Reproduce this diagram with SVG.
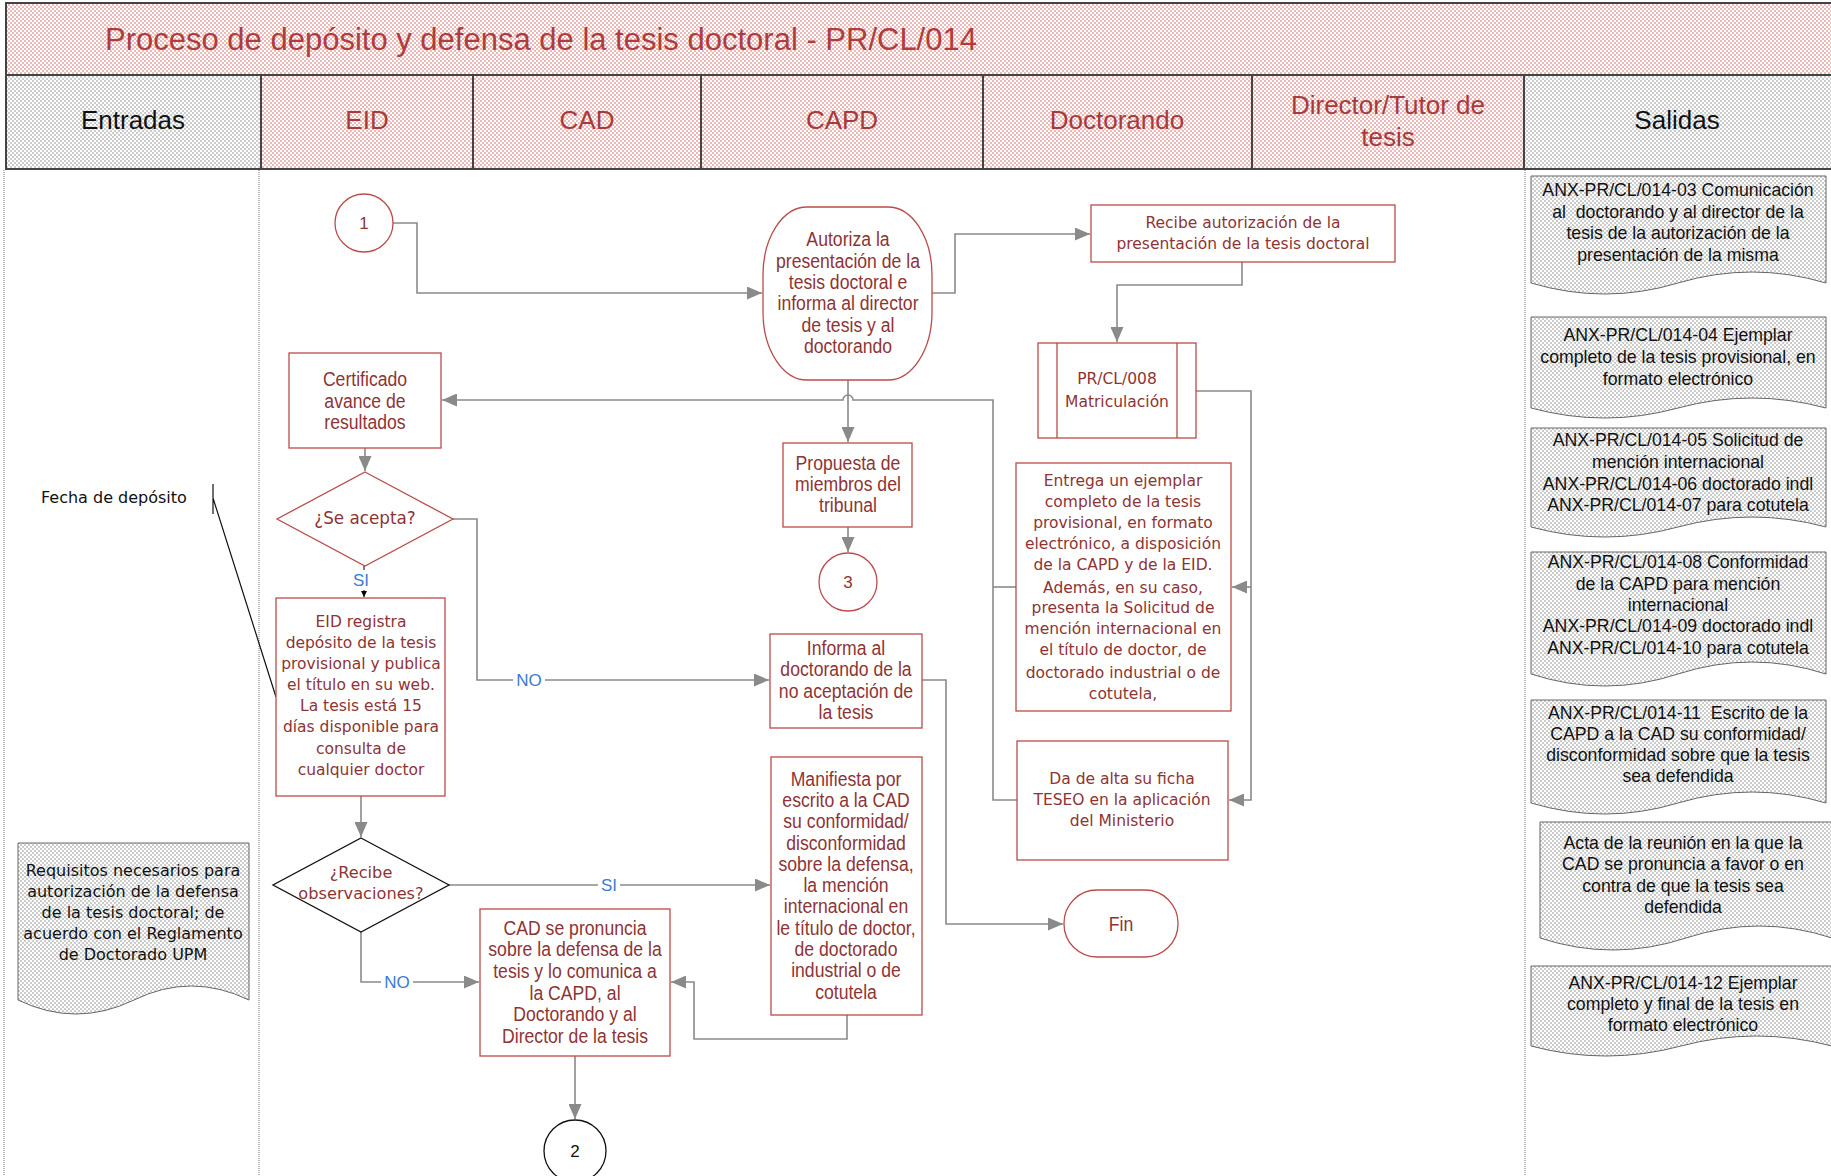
<svg xmlns="http://www.w3.org/2000/svg" width="1831" height="1176" viewBox="0 0 1831 1176">
<defs>
<pattern id="pink" width="4" height="4" patternUnits="userSpaceOnUse"><rect width="4" height="4" fill="#ffffff"/><rect width="2" height="2" fill="#edb8b8"/><rect x="2" y="2" width="2" height="2" fill="#edb8b8"/></pattern>
<pattern id="gray" width="4" height="4" patternUnits="userSpaceOnUse"><rect width="4" height="4" fill="#ffffff"/><rect width="2" height="2" fill="#cccccc"/><rect x="2" y="2" width="2" height="2" fill="#cccccc"/></pattern>
<marker id="arr" markerWidth="15" markerHeight="13" refX="15" refY="6.5" orient="auto" markerUnits="userSpaceOnUse"><path d="M0,0 L15,6.5 L0,13 z" fill="#8a8a8a"/></marker>
<marker id="arrk" markerWidth="6" markerHeight="6" refX="6" refY="3" orient="auto" markerUnits="userSpaceOnUse"><path d="M0,0 L6,3 L0,6 z" fill="#000"/></marker>
</defs>
<style>
.hdr{fill:url(#pink);stroke:#444;stroke-width:2}
.hdrg{fill:url(#gray);stroke:#444;stroke-width:2}
.lane{font-family:"Liberation Sans",Arial,sans-serif;font-size:26px;fill:#a83a3a;text-anchor:middle}
.laneb{font-family:"Liberation Sans",Arial,sans-serif;font-size:26px;fill:#111;text-anchor:middle}
.title{font-family:"Liberation Sans",Arial,sans-serif;font-size:31px;fill:#b03c3c}
.sep{stroke:#b8b8b8;stroke-width:2;stroke-dasharray:1 1;fill:none}
.box{fill:#fff;stroke:#bd4b4b;stroke-width:1.3}
.boxk{fill:#fff;stroke:#111;stroke-width:1.3}
.nar{font-family:"Liberation Sans",Arial,sans-serif;font-size:21px;fill:#8e3434;text-anchor:middle}
.wid{font-family:"DejaVu Sans",Verdana,sans-serif;font-size:15.5px;fill:#8e3434;text-anchor:middle}
.widk{font-family:"DejaVu Sans",Verdana,sans-serif;font-size:16px;fill:#111;text-anchor:middle}
.num{font-family:"Liberation Sans",Arial,sans-serif;font-size:17px;text-anchor:middle}
.doc{fill:url(#gray);stroke:#666;stroke-width:1}
.doct{font-family:"Liberation Sans",Arial,sans-serif;font-size:17.7px;fill:#111;text-anchor:middle;white-space:pre}
.con{fill:none;stroke:#8a8a8a;stroke-width:1.6}
.lbl{font-family:"Liberation Sans",Arial,sans-serif;font-size:17px;fill:#3a7bd5;text-anchor:middle}
</style>
<rect width="1831" height="1176" fill="#fff"/>

<g id="header">
<rect class="hdr" x="6" y="3" width="1826" height="72"/>
<text class="title" x="105" y="49.5">Proceso de depósito y defensa de la tesis doctoral - PR/CL/014</text>
<rect class="hdrg" x="6" y="75" width="255" height="94"/>
<rect class="hdr" x="261" y="75" width="212" height="94"/>
<rect class="hdr" x="473" y="75" width="228" height="94"/>
<rect class="hdr" x="701" y="75" width="282" height="94"/>
<rect class="hdr" x="983" y="75" width="269" height="94"/>
<rect class="hdr" x="1252" y="75" width="272" height="94"/>
<rect class="hdrg" x="1524" y="75" width="308" height="94"/>
<text class="laneb" x="133" y="129">Entradas</text>
<text class="lane" x="367" y="129">EID</text>
<text class="lane" x="587" y="129">CAD</text>
<text class="lane" x="842" y="129">CAPD</text>
<text class="lane" x="1117" y="129">Doctorando</text>
<text class="lane" x="1388" y="114">Director/Tutor de</text>
<text class="lane" x="1388" y="146">tesis</text>
<text class="laneb" x="1677" y="129">Salidas</text>
</g>

<g id="lanes">
<line class="sep" x1="4" y1="170" x2="4" y2="1176"/>
<line class="sep" x1="259" y1="170" x2="259" y2="1176"/>
<line class="sep" x1="1525" y1="170" x2="1525" y2="1176"/>
</g>

<g id="connectors">
<path class="con" d="M393,223 H417 V293 H762" marker-end="url(#arr)"/>
<path class="con" d="M932,293 H955 V234 H1090" marker-end="url(#arr)"/>
<path class="con" d="M1242,262 V285 H1117 V342" marker-end="url(#arr)"/>
<path class="con" d="M848,380 V442" marker-end="url(#arr)"/>
<path class="con" d="M1016,587 H993"/>
<path class="con" d="M1017,800 H993 V400 H853 A5,5 0 0 0 843,400 H442" marker-end="url(#arr)"/>
<path class="con" d="M1196,391 H1251 V800 H1229" marker-end="url(#arr)"/>
<path class="con" d="M1251,587 H1232" marker-end="url(#arr)"/>
<path class="con" d="M365,448 V471" marker-end="url(#arr)"/>
<path fill="none" stroke="#000" stroke-width="1" d="M364,566 V597" marker-end="url(#arrk)"/>
<path class="con" d="M453,519 H477 V680 H769" marker-end="url(#arr)"/>
<path class="con" d="M848,527 V552" marker-end="url(#arr)"/>
<path class="con" d="M361,796 V837" marker-end="url(#arr)"/>
<path class="con" d="M449,885 H770" marker-end="url(#arr)"/>
<path class="con" d="M361,932 V982 H479" marker-end="url(#arr)"/>
<path class="con" d="M847,1015 V1039 H694 V982 H671" marker-end="url(#arr)"/>
<path class="con" d="M922,680 H946 V924 H1063" marker-end="url(#arr)"/>
<path class="con" d="M575,1056 V1119" marker-end="url(#arr)"/>
<rect x="350" y="570" width="22" height="20" fill="#fff"/>
<text class="lbl" x="361" y="586">SI</text>
<rect x="513" y="671" width="32" height="18" fill="#fff"/>
<text class="lbl" x="529" y="686">NO</text>
<rect x="598" y="876" width="22" height="18" fill="#fff"/>
<text class="lbl" x="609" y="891">SI</text>
<rect x="381" y="973" width="32" height="18" fill="#fff"/>
<text class="lbl" x="397" y="988">NO</text>
<path fill="none" stroke="#111" stroke-width="1.2" d="M213,484 V514 M213,498 L276,697"/>
</g>

<g id="n1"><circle class="box" cx="364" cy="223" r="29"/><text class="num" x="364" y="229" fill="#8e3434">1</text></g>

<g id="autoriza"><rect class="box" x="763" y="207" width="169" height="173" rx="44" ry="68"/>
<text class="nar" transform="translate(848,0) scale(0.84,1)"><tspan x="0" y="246.5">Autoriza la</tspan><tspan x="0" y="267.8">presentación de la</tspan><tspan x="0" y="289.1">tesis doctoral e</tspan><tspan x="0" y="310.4">informa al director</tspan><tspan x="0" y="331.7">de tesis y al</tspan><tspan x="0" y="353">doctorando</tspan></text></g>

<g id="recibe"><rect class="box" x="1091" y="205" width="304" height="57"/>
<text class="wid"><tspan x="1243" y="228">Recibe autorización de la</tspan><tspan x="1243" y="249">presentación de la tesis doctoral</tspan></text></g>

<g id="matriculacion"><rect class="box" x="1038" y="343" width="158" height="95"/>
<line class="box" x1="1057" y1="343" x2="1057" y2="438"/><line class="box" x1="1177" y1="343" x2="1177" y2="438"/>
<text class="wid"><tspan x="1117" y="384">PR/CL/008</tspan><tspan x="1117" y="406.5">Matriculación</tspan></text></g>

<g id="certificado"><rect class="box" x="289" y="353" width="152" height="95"/>
<text class="nar" transform="translate(365,0) scale(0.84,1)"><tspan x="0" y="386">Certificado</tspan><tspan x="0" y="408">avance de</tspan><tspan x="0" y="429">resultados</tspan></text></g>

<g id="seacepta"><polygon class="box" points="365,472 453,519 365,566 277,519"/>
<text class="wid" x="365" y="523.5" style="font-size:16.8px">¿Se acepta?</text></g>

<g id="propuesta"><rect class="box" x="783" y="443" width="129" height="84"/>
<text class="nar" transform="translate(848,0) scale(0.84,1)"><tspan x="0" y="470">Propuesta de</tspan><tspan x="0" y="491">miembros del</tspan><tspan x="0" y="512">tribunal</tspan></text></g>

<g id="n3"><circle class="box" cx="848" cy="582" r="29"/><text class="num" x="848" y="588" fill="#8e3434">3</text></g>

<g id="entrega"><rect class="box" x="1016" y="463" width="215" height="248"/>
<text class="wid"><tspan x="1123" y="485.5">Entrega un ejemplar</tspan><tspan x="1123" y="507">completo de la tesis</tspan><tspan x="1123" y="528.4">provisional, en formato</tspan><tspan x="1123" y="549.3">electrónico, a disposición</tspan><tspan x="1123" y="570.3">de la CAPD y de la EID.</tspan><tspan x="1123" y="592.6">Además, en su caso,</tspan><tspan x="1123" y="613.2">presenta la Solicitud de</tspan><tspan x="1123" y="634.2">mención internacional en</tspan><tspan x="1123" y="655.1">el título de doctor, de</tspan><tspan x="1123" y="677.5">doctorado industrial o de</tspan><tspan x="1123" y="698.9">cotutela,</tspan></text></g>

<g id="eidregistra"><rect class="box" x="276" y="598" width="169" height="198"/>
<text class="wid"><tspan x="361" y="626.5">EID registra</tspan><tspan x="361" y="647.5">depósito de la tesis</tspan><tspan x="361" y="669.2">provisional y publica</tspan><tspan x="361" y="690.1">el título en su web.</tspan><tspan x="361" y="711">La tesis está 15</tspan><tspan x="361" y="732.3">días disponible para</tspan><tspan x="361" y="754">consulta de</tspan><tspan x="361" y="774.9">cualquier doctor</tspan></text></g>

<g id="informa"><rect class="box" x="770" y="634" width="152" height="94"/>
<text class="nar" transform="translate(846,0) scale(0.84,1)"><tspan x="0" y="655">Informa al</tspan><tspan x="0" y="676">doctorando de la</tspan><tspan x="0" y="698">no aceptación de</tspan><tspan x="0" y="719">la tesis</tspan></text></g>

<g id="dadealta"><rect class="box" x="1017" y="741" width="211" height="119"/>
<text class="wid"><tspan x="1122" y="784">Da de alta su ficha</tspan><tspan x="1122" y="805">TESEO en la aplicación</tspan><tspan x="1122" y="826">del Ministerio</tspan></text></g>

<g id="recibeobs"><polygon class="boxk" points="361,838 449,885 361,932 273,885"/>
<text class="wid" style="font-size:16.2px"><tspan x="361" y="877.5">¿Recibe</tspan><tspan x="361" y="898.5">observaciones?</tspan></text></g>

<g id="manifiesta"><rect class="box" x="771" y="757" width="151" height="258"/>
<text class="nar" transform="translate(846,0) scale(0.84,1)"><tspan x="0" y="786">Manifiesta por</tspan><tspan x="0" y="807">escrito a la CAD</tspan><tspan x="0" y="828">su conformidad/</tspan><tspan x="0" y="850">disconformidad</tspan><tspan x="0" y="871">sobre la defensa,</tspan><tspan x="0" y="892">la mención</tspan><tspan x="0" y="913">internacional en</tspan><tspan x="0" y="935">le título de doctor,</tspan><tspan x="0" y="956">de doctorado</tspan><tspan x="0" y="977.5">industrial o de</tspan><tspan x="0" y="999">cotutela</tspan></text></g>

<g id="fin"><rect class="box" x="1064" y="890" width="114" height="67" rx="33" ry="33"/>
<text class="nar" transform="translate(1121,0) scale(0.84,1)" x="0" y="931">Fin</text></g>

<g id="cadpronuncia"><rect class="box" x="480" y="909" width="190" height="147"/>
<text class="nar" transform="translate(575,0) scale(0.84,1)"><tspan x="0" y="935">CAD se pronuncia</tspan><tspan x="0" y="956">sobre la defensa de la</tspan><tspan x="0" y="978">tesis y lo comunica a</tspan><tspan x="0" y="1000">la CAPD, al</tspan><tspan x="0" y="1021">Doctorando y al</tspan><tspan x="0" y="1043">Director de la tesis</tspan></text></g>

<g id="n2"><circle class="boxk" cx="575" cy="1151" r="31"/><text class="num" x="575" y="1157" fill="#111">2</text></g>

<g id="fecha"><text class="widk" x="41" y="503" style="text-anchor:start">Fecha de depósito</text></g>

<g id="requisitos"><path class="doc" d="M18,843 H249 V1000 Q191,972 134,1000 Q76,1028 18,1000 Z"/>
<text class="widk"><tspan x="133" y="875.5">Requisitos necesarios para</tspan><tspan x="133" y="896.5">autorización de la defensa</tspan><tspan x="133" y="917.5">de la tesis doctoral; de</tspan><tspan x="133" y="938.5">acuerdo con el Reglamento</tspan><tspan x="133" y="960">de Doctorado UPM</tspan></text></g>

<g id="s1"><path class="doc" d="M1531,176 H1826 V283 Q1752,261 1678,283 Q1605,305 1531,283 Z"/>
<text class="doct"><tspan x="1678" y="196">ANX-PR/CL/014-03 Comunicación</tspan><tspan x="1678" y="217.5">al  doctorando y al director de la</tspan><tspan x="1678" y="239">tesis de la autorización de la</tspan><tspan x="1678" y="260.5">presentación de la misma</tspan></text></g>

<g id="s2"><path class="doc" d="M1531,317 H1826 V408 Q1752,388 1678,408 Q1605,428 1531,408 Z"/>
<text class="doct"><tspan x="1678" y="341">ANX-PR/CL/014-04 Ejemplar</tspan><tspan x="1678" y="363">completo de la tesis provisional, en</tspan><tspan x="1678" y="385">formato electrónico</tspan></text></g>

<g id="s3"><path class="doc" d="M1531,428 H1826 V527 Q1752,507 1678,527 Q1605,547 1531,527 Z"/>
<text class="doct"><tspan x="1678" y="446">ANX-PR/CL/014-05 Solicitud de</tspan><tspan x="1678" y="468">mención internacional</tspan><tspan x="1678" y="490">ANX-PR/CL/014-06 doctorado indl</tspan><tspan x="1678" y="511">ANX-PR/CL/014-07 para cotutela</tspan></text></g>

<g id="s4"><path class="doc" d="M1531,552 H1826 V674 Q1752,650 1678,674 Q1605,698 1531,674 Z"/>
<text class="doct"><tspan x="1678" y="568">ANX-PR/CL/014-08 Conformidad</tspan><tspan x="1678" y="590">de la CAPD para mención</tspan><tspan x="1678" y="611">internacional</tspan><tspan x="1678" y="632">ANX-PR/CL/014-09 doctorado indl</tspan><tspan x="1678" y="654">ANX-PR/CL/014-10 para cotutela</tspan></text></g>

<g id="s5"><path class="doc" d="M1531,700 H1826 V803 Q1752,781 1678,803 Q1605,825 1531,803 Z"/>
<text class="doct"><tspan x="1678" y="719">ANX-PR/CL/014-11  Escrito de la</tspan><tspan x="1678" y="740">CAPD a la CAD su conformidad/</tspan><tspan x="1678" y="761">disconformidad sobre que la tesis</tspan><tspan x="1678" y="782">sea defendida</tspan></text></g>

<g id="s6"><path class="doc" d="M1540,822 H1832 V938 Q1759,914 1686,938 Q1613,962 1540,938 Z"/>
<text class="doct"><tspan x="1683" y="849">Acta de la reunión en la que la</tspan><tspan x="1683" y="870">CAD se pronuncia a favor o en</tspan><tspan x="1683" y="892">contra de que la tesis sea</tspan><tspan x="1683" y="913">defendida</tspan></text></g>

<g id="s7"><path class="doc" d="M1531,966 H1832 V1046 Q1756,1026 1681,1046 Q1606,1066 1531,1046 Z"/>
<text class="doct"><tspan x="1683" y="989">ANX-PR/CL/014-12 Ejemplar</tspan><tspan x="1683" y="1010">completo y final de la tesis en</tspan><tspan x="1683" y="1031">formato electrónico</tspan></text></g>
</svg>
